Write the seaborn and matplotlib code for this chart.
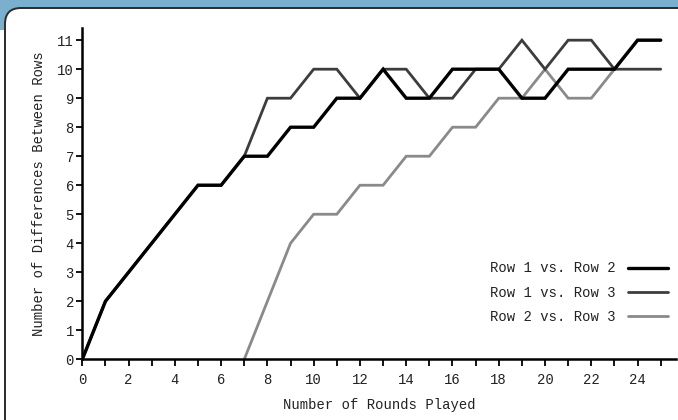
import numpy as np
import pandas as pd
import matplotlib
matplotlib.use("Agg")
import matplotlib.pyplot as plt
import seaborn as sns
from matplotlib.patches import FancyBboxPatch, Rectangle

rounds = list(range(0, 26))
row1_vs_row2 = [0, 2, 3, 4, 5, 6, 6, 7, 7, 8, 8, 9, 9, 10, 9, 9, 10, 10, 10, 9, 9, 10, 10, 10, 11, 11]
row1_vs_row3 = [0, 2, 3, 4, 5, 6, 6, 7, 9, 9, 10, 10, 9, 10, 10, 9, 9, 10, 10, 11, 10, 11, 11, 10, 10, 10]
row2_vs_row3_rounds = list(range(7, 26))
row2_vs_row3 = [0, 2, 4, 5, 5, 6, 6, 7, 7, 8, 8, 9, 9, 10, 9, 9, 10, 11, 11]
series_names = ["Row 1 vs. Row 2", "Row 1 vs. Row 3", "Row 2 vs. Row 3"]
x_ticklabels = [str(v) for v in range(0, 25, 2)]
y_ticklabels = [str(v) for v in range(0, 12)]

df = pd.concat([
    pd.DataFrame({"round": rounds, "diff": row1_vs_row2, "series": series_names[0]}),
    pd.DataFrame({"round": rounds, "diff": row1_vs_row3, "series": series_names[1]}),
    pd.DataFrame({"round": row2_vs_row3_rounds, "diff": row2_vs_row3, "series": series_names[2]}),
])

sns.set_theme(style="white")
plt.rcParams["font.family"] = ["Liberation Mono", "DejaVu Sans Mono"]

W, H = 678, 420
fig = plt.figure(figsize=(W / 100, H / 100), dpi=100, facecolor="white")

# header band + rounded frame
fig.patches.append(Rectangle((0, H - 30), W, 30, transform=None, facecolor="#7AAFCD",
                             edgecolor="none", zorder=0))
fig.patches.append(FancyBboxPatch((5, -40), W + 40, H - 8 + 40, transform=None,
                                  boxstyle="round,pad=0,rounding_size=16",
                                  facecolor="white", edgecolor="#2b2b2b", linewidth=1.4, zorder=1))

ax = fig.add_axes([82.3 / W, (H - 359.3) / H, (676 - 82.3) / W, (359.3 - 28) / H])
ax.set_facecolor("none")
ax.set_zorder(2)

palette = {series_names[0]: "#000000", series_names[1]: "#3d3d3d", series_names[2]: "#8a8a8a"}
widths = {series_names[0]: 2.4, series_names[1]: 2.0, series_names[2]: 2.0}
order = [series_names[2], series_names[1], series_names[0]]
for name in order:
    sub = df[df["series"] == name]
    sns.lineplot(data=sub, x="round", y="diff", ax=ax, color=palette[name],
                 linewidth=widths[name], label=name, legend=False, estimator=None,
                 solid_joinstyle="miter")

ax.set_xlim(0, 25.66)
ax.set_ylim(0, 11.42)
ax.set_xticks(range(0, 26))
ax.set_xticklabels([lbl if i % 2 == 0 else "" for i, lbl in
                    enumerate([str(v) for v in range(0, 26)])])
ax.set_yticks(range(0, 12))
ax.set_yticklabels(y_ticklabels)

for side in ["top", "right"]:
    ax.spines[side].set_visible(False)
for side in ["left", "bottom"]:
    ax.spines[side].set_visible(True)
    ax.spines[side].set_color("black")
    ax.spines[side].set_linewidth(1.8)

ax.tick_params(axis="x", direction="out", length=5, width=1.3, color="black",
               labelsize=10, pad=5, labelcolor="#222222", bottom=True)
ax.tick_params(axis="y", direction="out", length=4, width=1.3, color="black",
               labelsize=10, pad=2, labelcolor="#222222", left=True)

ax.set_xlabel("Number of Rounds Played", fontsize=10, color="#222222", labelpad=8)
ax.set_ylabel("Number of Differences Between Rows", fontsize=10, color="#222222", labelpad=8)

handles = [plt.Line2D([], [], color=palette[n], linewidth=widths[n]) for n in series_names]
leg = ax.legend(handles, series_names, loc="upper left", bbox_to_anchor=(0.677, 0.312),
                frameon=False, markerfirst=False, fontsize=10, handlelength=2.9,
                handletextpad=0.9, labelspacing=0.75, borderaxespad=0)
for t in leg.get_texts():
    t.set_color("#222222")

fig.savefig("out.png", dpi=100, facecolor=fig.get_facecolor())
